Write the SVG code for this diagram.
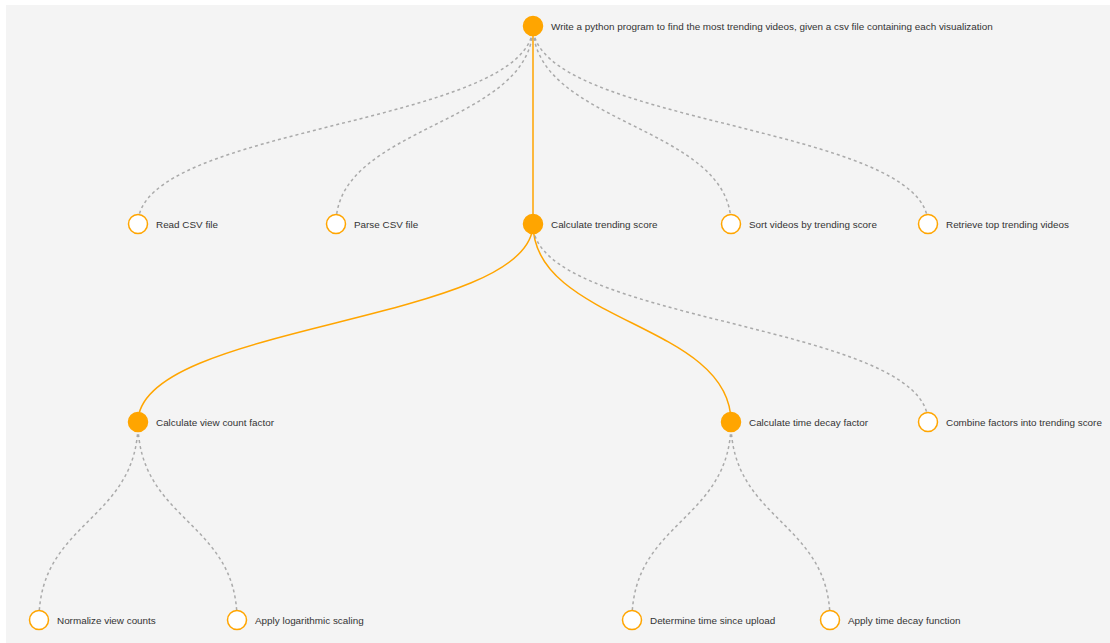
<svg xmlns="http://www.w3.org/2000/svg" width="1110" height="643" viewBox="0 0 1110 643">
<style>
.bg{fill:#f4f4f4}
.solid{fill:none;stroke:#ffa500;stroke-width:1.5}
.dash{fill:none;stroke:#aaaaaa;stroke-width:1.5;stroke-dasharray:3,3}
.full{fill:#ffa500;stroke:#ffa500;stroke-width:1.5}
.empty{fill:#ffffff;stroke:#ffa500;stroke-width:1.5}
text{font-family:"Liberation Sans",Arial,sans-serif;font-size:9.9px;fill:#333333}
</style>
<rect class="bg" x="6" y="5" width="1104" height="638"/>
<g id="links">
<path class="dash" d="M533,26C533,125 138,125 138,224"/>
<path class="dash" d="M533,26C533,125 336,125 336,224"/>
<path class="solid" d="M533,26L533,224"/>
<path class="dash" d="M533,26C533,125 731,125 731,224"/>
<path class="dash" d="M533,26C533,125 928,125 928,224"/>
<path class="solid" d="M533,224C533,323 138,323 138,422"/>
<path class="solid" d="M533,224C533,323 731,323 731,422"/>
<path class="dash" d="M533,224C533,323 928,323 928,422"/>
<path class="dash" d="M138,422C138,521 39,521 39,620"/>
<path class="dash" d="M138,422C138,521 237,521 237,620"/>
<path class="dash" d="M731,422C731,521 632,521 632,620"/>
<path class="dash" d="M731,422C731,521 830,521 830,620"/>
</g>
<g id="n0"><circle class="full" cx="533" cy="26" r="9.5"/><text x="551" y="30">Write a python program to find the most trending videos, given a csv file containing each visualization</text></g>
<g id="n1"><circle class="empty" cx="138" cy="224" r="9.5"/><text x="156" y="228">Read CSV file</text></g>
<g id="n2"><circle class="empty" cx="336" cy="224" r="9.5"/><text x="354" y="228">Parse CSV file</text></g>
<g id="n3"><circle class="full" cx="533" cy="224" r="9.5"/><text x="551" y="228">Calculate trending score</text></g>
<g id="n4"><circle class="empty" cx="731" cy="224" r="9.5"/><text x="749" y="228">Sort videos by trending score</text></g>
<g id="n5"><circle class="empty" cx="928" cy="224" r="9.5"/><text x="946" y="228">Retrieve top trending videos</text></g>
<g id="n6"><circle class="full" cx="138" cy="422" r="9.5"/><text x="156" y="426">Calculate view count factor</text></g>
<g id="n7"><circle class="full" cx="731" cy="422" r="9.5"/><text x="749" y="426">Calculate time decay factor</text></g>
<g id="n8"><circle class="empty" cx="928" cy="422" r="9.5"/><text x="946" y="426">Combine factors into trending score</text></g>
<g id="n9"><circle class="empty" cx="39" cy="620" r="9.5"/><text x="57" y="624">Normalize view counts</text></g>
<g id="n10"><circle class="empty" cx="237" cy="620" r="9.5"/><text x="255" y="624">Apply logarithmic scaling</text></g>
<g id="n11"><circle class="empty" cx="632" cy="620" r="9.5"/><text x="650" y="624">Determine time since upload</text></g>
<g id="n12"><circle class="empty" cx="830" cy="620" r="9.5"/><text x="848" y="624">Apply time decay function</text></g>
</svg>
